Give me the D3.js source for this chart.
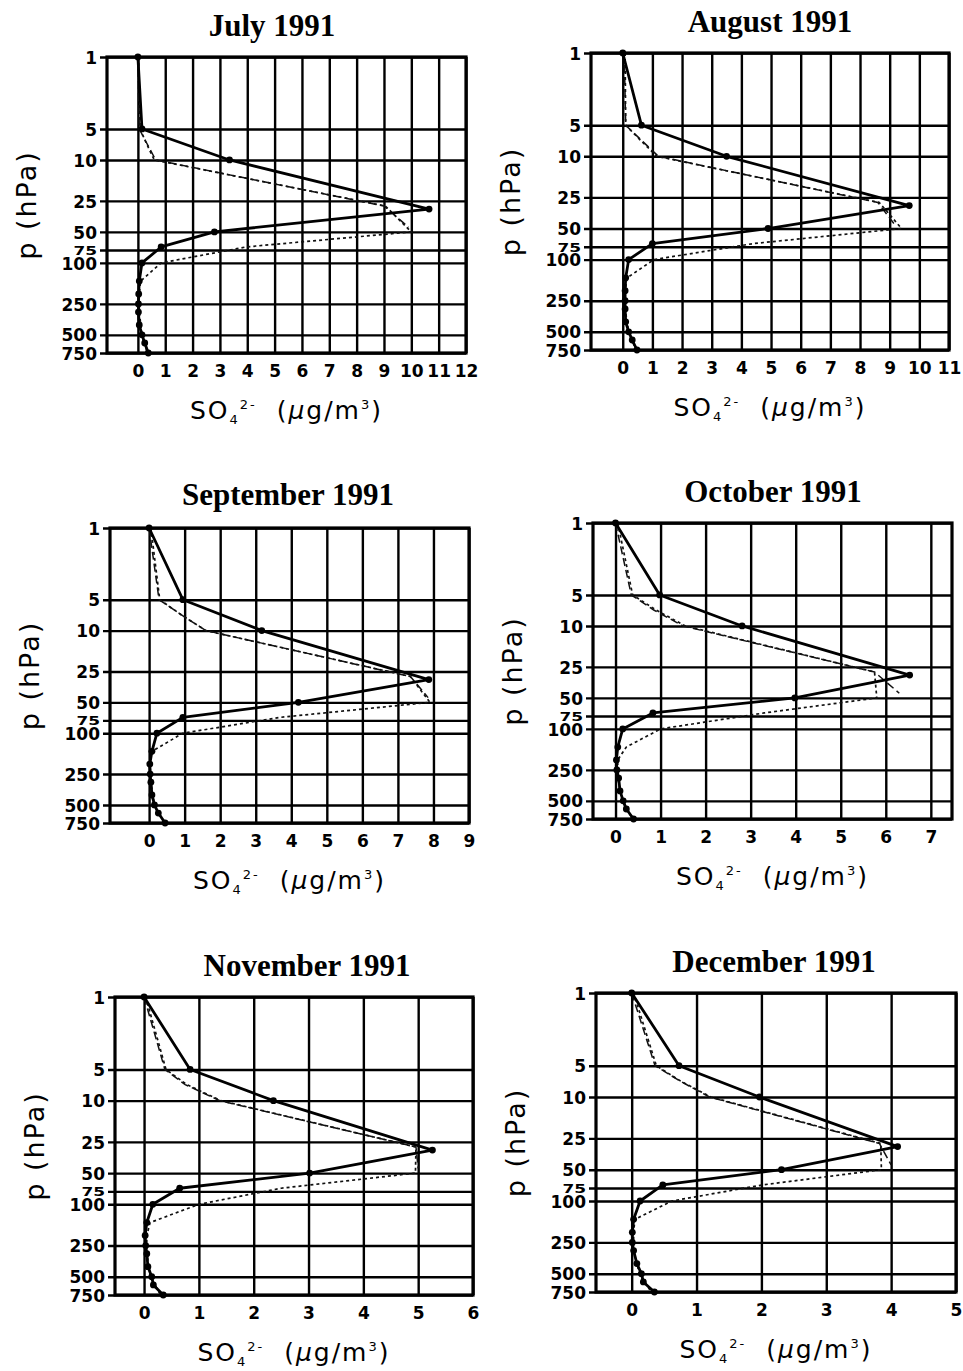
<!DOCTYPE html>
<html>
<head>
<meta charset="utf-8">
<script src="https://cdn.jsdelivr.net/npm/d3@7"></script>
<style>
body { margin: 0; background: #fff; }
svg { display: block; }
.tick text { font-family: "DejaVu Sans", sans-serif; font-weight: bold; font-size: 17px; fill: #000; }
</style>
</head>
<body>
<script>
// sulphate profiles, Jul-Dec 1991
var W = 963, H = 1371;

var titles = ["July 1991", "August 1991", "September 1991", "October 1991", "November 1991", "December 1991"];

var pTicks = [1, 5, 10, 25, 50, 75, 100, 250, 500, 750];
var xTicksJul = [0, 1, 2, 3, 4, 5, 6, 7, 8, 9, 10, 11, 12];
var xTicksAug = [0, 1, 2, 3, 4, 5, 6, 7, 8, 9, 10, 11];
var xTicksSep = [0, 1, 2, 3, 4, 5, 6, 7, 8, 9];
var xTicksOct = [0, 1, 2, 3, 4, 5, 6, 7];
var xTicksNov = [0, 1, 2, 3, 4, 5, 6];
var xTicksDec = [0, 1, 2, 3, 4, 5];
var xDomains = [[-1.13, 12], [-1.07, 11], [-1.1, 9], [-0.5, 7.47], [-0.53, 6], [-0.55, 5]];

// pressure levels (hPa) of each curve
var solidP = [1, 5, 10, 30, 50, 70, 100, 150, 200, 250, 300, 400, 500, 600, 750];
var dashP  = [1, 5, 7, 10, 28, 45];
var dotP   = [1, 5, 7, 10, 28, 50, 70, 100, 150, 200, 300, 500, 750];

// SO4 (ug/m3)
var solidJul = [0.0, 0.15, 3.35, 10.65, 2.8, 0.85, 0.15, 0.05, 0.03, 0.02, 0.02, 0.05, 0.15, 0.25, 0.38];
var dashJul  = [0.0, 0.05, 0.34, 0.65, 9.0, 9.9];
var dotJul   = [0.02, 0.08, 0.32, 0.6, 9.05, 10.0, 3.95, 0.85, 0.1, 0.05, 0.05, 0.15, 0.35];

var solidAug = [0.0, 0.63, 3.5, 9.66, 4.9, 1.0, 0.2, 0.1, 0.08, 0.08, 0.08, 0.1, 0.2, 0.32, 0.48];
var dashAug  = [0.05, 0.1, 0.63, 1.2, 8.6, 9.15];
var dotAug   = [0.08, 0.1, 0.6, 1.15, 8.65, 9.4, 4.4, 1.05, 0.15, 0.08, 0.08, 0.2, 0.45];

var solidSep = [0.0, 0.95, 3.17, 7.87, 4.2, 0.95, 0.22, 0.08, 0.02, 0.03, 0.05, 0.08, 0.15, 0.26, 0.45];
var dashSep  = [0.0, 0.28, 0.9, 1.6, 7.35, 7.85];
var dotSep   = [0.05, 0.3, 0.9, 1.6, 7.35, 7.9, 3.7, 0.95, 0.08, 0.03, 0.05, 0.15, 0.42];

var solidOct = [0.0, 0.98, 2.81, 6.53, 3.98, 0.83, 0.16, 0.05, 0.02, 0.03, 0.07, 0.1, 0.17, 0.24, 0.4];
var dashOct  = [0.0, 0.35, 0.85, 1.5, 5.75, 6.3];
var dotOct   = [0.05, 0.38, 0.9, 1.55, 5.75, 5.8, 3.3, 1.0, 0.24, 0.05, 0.05, 0.15, 0.38];

var solidNov = [0.0, 0.84, 2.36, 5.26, 3.02, 0.65, 0.16, 0.05, 0.02, 0.03, 0.05, 0.07, 0.14, 0.17, 0.35];
var dashNov  = [0.0, 0.38, 0.75, 1.38, 4.96, 5.0];
var dotNov   = [0.03, 0.4, 0.78, 1.4, 4.96, 4.95, 2.5, 1.0, 0.11, 0.05, 0.05, 0.12, 0.3];

var solidDec = [0.0, 0.73, 1.97, 4.1, 2.31, 0.48, 0.13, 0.03, 0.01, 0.01, 0.03, 0.08, 0.15, 0.18, 0.35];
var dashDec  = [0.0, 0.36, 0.74, 1.2, 3.82, 4.0];
var dotDec   = [0.03, 0.38, 0.75, 1.22, 3.84, 3.85, 2.02, 0.62, 0.05, 0.03, 0.03, 0.12, 0.3];

var xTicks = [xTicksJul, xTicksAug, xTicksSep, xTicksOct, xTicksNov, xTicksDec];
var solids = [solidJul, solidAug, solidSep, solidOct, solidNov, solidDec];
var dashes = [dashJul, dashAug, dashSep, dashOct, dashNov, dashDec];
var dots   = [dotJul, dotAug, dotSep, dotOct, dotNov, dotDec];

// frame of each panel on the page
var frames = [
	{l: 107, r: 466, t: 57, b: 353, tx: 272, ty: 36},
	{l: 591, r: 949, t: 53, b: 350, tx: 770, ty: 32},
	{l: 110, r: 469, t: 528, b: 823, tx: 288, ty: 505},
	{l: 593, r: 952, t: 523, b: 819, tx: 773, ty: 502},
	{l: 115, r: 473, t: 997, b: 1295, tx: 307, ty: 976},
	{l: 596, r: 956, t: 993, b: 1292, tx: 774, ty: 972}
];

var svg = d3.select("body").append("svg")
	.attr("width", W)
	.attr("height", H);

function pairs(ps, vs) {
	return ps.map(function(p, i) { return {p: p, v: vs[i]}; });
}

frames.forEach(function(f, i) {
	var w = f.r - f.l, h = f.b - f.t;
	var g = svg.append("g").attr("transform", "translate(" + f.l + "," + f.t + ")");

	var x = d3.scaleLinear().domain(xDomains[i]).range([0, w]);
	var y = d3.scaleLog().domain([1, 750]).range([0, h]);

	// grid + tick labels
	var yAxis = d3.axisLeft(y)
		.tickValues(pTicks)
		.tickFormat(d3.format("d"))
		.tickSizeInner(-w)
		.tickSizeOuter(0)
		.tickPadding(10);
	var ya = g.append("g").call(yAxis);
	ya.select(".domain").remove();
	ya.selectAll("line").attr("x1", -7).attr("stroke", "#000").attr("stroke-width", 2.4);
	ya.selectAll("text").attr("x", -10).attr("dy", "0.36em")
		.attr("transform", function(d) { return d === 75 ? "scale(1,0.72)" : null; });

	var xAxis = d3.axisBottom(x)
		.tickValues(xTicks[i])
		.tickFormat(d3.format("d"))
		.tickSizeInner(-h)
		.tickSizeOuter(0)
		.tickPadding(12);
	var xa = g.append("g").attr("transform", "translate(0," + h + ")").call(xAxis);
	xa.select(".domain").remove();
	xa.selectAll("line").attr("stroke", "#000").attr("stroke-width", 2.4);

	g.append("rect")
		.attr("width", w).attr("height", h)
		.attr("fill", "none").attr("stroke", "#000").attr("stroke-width", 3.2);

	var line = d3.line().x(function(d) { return x(d.v); }).y(function(d) { return y(d.p); });

	g.append("path").datum(pairs(dotP, dots[i]))
		.attr("d", line).attr("fill", "none").attr("stroke", "#111")
		.attr("stroke-width", 1.7).attr("stroke-dasharray", "3,3");
	g.append("path").datum(pairs(dashP, dashes[i]))
		.attr("d", line).attr("fill", "none").attr("stroke", "#111")
		.attr("stroke-width", 1.5).attr("stroke-dasharray", "8,4");

	var sp = pairs(solidP, solids[i]);
	g.append("path").datum(sp)
		.attr("d", line).attr("fill", "none").attr("stroke", "#000")
		.attr("stroke-width", 2.8).attr("stroke-linejoin", "round");
	g.selectAll("circle.pt").data(sp).enter().append("circle")
		.attr("class", "pt")
		.attr("cx", function(d) { return x(d.v); })
		.attr("cy", function(d) { return y(d.p); })
		.attr("r", 3.4)
		.attr("fill", "#000");

	// titles and axis labels
	svg.append("text")
		.attr("x", f.tx).attr("y", f.ty)
		.attr("text-anchor", "middle")
		.style("font-family", "'Liberation Serif', 'Times New Roman', serif")
		.style("font-weight", "bold")
		.style("font-size", "31px")
		.text(titles[i]);

	svg.append("text")
		.attr("transform", "translate(" + (f.l - 80) + "," + ((f.t + f.b) / 2) + ") rotate(-90)")
		.attr("text-anchor", "middle")
		.attr("dy", "0.35em")
		.style("font-family", "'DejaVu Sans', sans-serif")
		.style("font-size", "27px")
		.style("letter-spacing", "2px")
		.text("p\u00a0(hPa)");

	var xl = svg.append("text")
		.attr("x", (f.l + f.r) / 2).attr("y", f.b + 66)
		.attr("text-anchor", "middle")
		.style("font-family", "'DejaVu Sans', sans-serif")
		.style("font-size", "25px")
		.style("letter-spacing", "2px");
	xl.append("tspan").text("SO");
	xl.append("tspan").attr("dy", 5).style("font-size", "13px").text("4");
	xl.append("tspan").attr("dy", -15).style("font-size", "13px").text("2-");
	xl.append("tspan").attr("dy", 10).text("\u00a0\u00a0(");
	xl.append("tspan").style("font-style", "italic").text("\u03bc");
	xl.append("tspan").text("g/m");
	xl.append("tspan").attr("dy", -10).style("font-size", "13px").text("3");
	xl.append("tspan").attr("dy", 10).text(")");
});
</script>
</body>
</html>
